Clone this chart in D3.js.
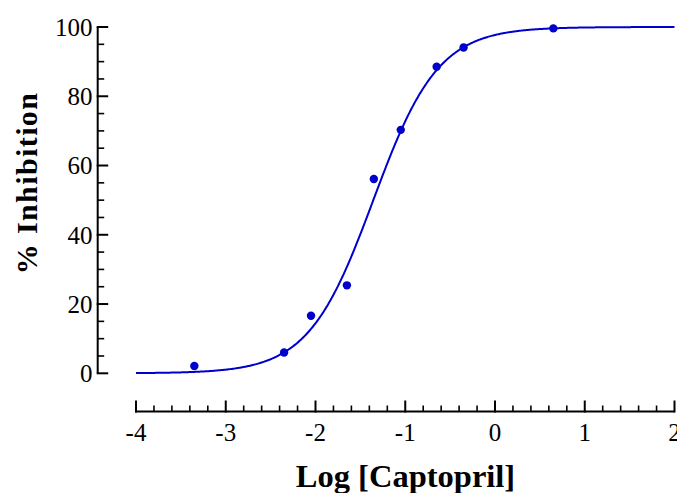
<!DOCTYPE html>
<html>
<head>
<meta charset="utf-8">
<script src="https://cdn.jsdelivr.net/npm/d3@7/dist/d3.min.js"></script>
<style>
  html, body { margin: 0; padding: 0; background: #fff; }
  svg { display: block; }
  text { font-family: "Liberation Serif", "Times New Roman", serif; fill: #000; }
</style>
</head>
<body>
<svg id="chart" width="677" height="493"></svg>
<script>
// Log concentration of captopril and measured inhibition
const logConc = [-3.35, -2.35, -2.05, -1.65, -1.35, -1.05, -0.65, -0.35, 0.65];
const inhibition = [2.1, 6.0, 16.6, 25.4, 56.1, 70.3, 88.5, 94.1, 99.6];

// Four-parameter logistic fit of the dose-response data
const fitBottom = 0;
const fitTop = 100;
const fitLogIC50 = -1.356;
const fitHill = 1.2;

const xTicks = [-4, -3, -2, -1, 0, 1, 2];
const yTicks = [0, 20, 40, 60, 80, 100];

const xTitle = "Log [Captopril]";
const yTitle = "% Inhibition";

const svg = d3.select("#chart");
const blue = "#0000cc";

const x = d3.scaleLinear().domain([-4, 2]).range([136, 674.5]);
const y = d3.scaleLinear().domain([0, 100]).range([373.3, 27]);

// Y axis: ticks pointing inward, minor every 5
const yAxisX = 97.7;
const gy = svg.append("g");
gy.append("line")
  .attr("x1", yAxisX).attr("x2", yAxisX)
  .attr("y1", y(100)).attr("y2", y(0))
  .attr("stroke", "#000").attr("stroke-width", 2);
gy.selectAll("line.minor")
  .data(d3.range(0, 101, 5).filter(v => v % 20 !== 0))
  .join("line").attr("class", "minor")
  .attr("x1", yAxisX).attr("x2", yAxisX + 6.5)
  .attr("y1", d => y(d)).attr("y2", d => y(d))
  .attr("stroke", "#000").attr("stroke-width", 1.6);
gy.selectAll("line.major")
  .data(yTicks)
  .join("line").attr("class", "major")
  .attr("x1", yAxisX - 1).attr("x2", yAxisX + 10.5)
  .attr("y1", d => y(d)).attr("y2", d => y(d))
  .attr("stroke", "#000").attr("stroke-width", 2);
gy.selectAll("text")
  .data(yTicks)
  .join("text")
  .attr("x", 92.5).attr("y", d => y(d)).attr("dy", "0.35em")
  .attr("text-anchor", "end")
  .attr("font-size", 25)
  .text(d => d);

// X axis: ticks pointing up, minor every 0.2
const xAxisY = 411.5;
const gx = svg.append("g");
gx.append("line")
  .attr("x1", x(-4) - 1).attr("x2", x(2))
  .attr("y1", xAxisY).attr("y2", xAxisY)
  .attr("stroke", "#000").attr("stroke-width", 2);
gx.selectAll("line.minor")
  .data(d3.range(0, 31).map(i => -4 + i * 0.2).filter((v, i) => i % 5 !== 0))
  .join("line").attr("class", "minor")
  .attr("x1", d => x(d)).attr("x2", d => x(d))
  .attr("y1", xAxisY).attr("y2", xAxisY - 6)
  .attr("stroke", "#000").attr("stroke-width", 1.6);
gx.selectAll("line.major")
  .data(xTicks)
  .join("line").attr("class", "major")
  .attr("x1", d => x(d)).attr("x2", d => x(d))
  .attr("y1", xAxisY + 1).attr("y2", xAxisY - 11)
  .attr("stroke", "#000").attr("stroke-width", 2);
gx.selectAll("text")
  .data(xTicks)
  .join("text")
  .attr("x", d => x(d)).attr("y", 441)
  .attr("text-anchor", "middle")
  .attr("font-size", 25)
  .text(d => d);

// Axis titles
svg.append("text")
  .attr("x", 405.5).attr("y", 487)
  .attr("text-anchor", "middle")
  .attr("font-size", 32.5).attr("font-weight", "bold")
  .text(xTitle);
svg.append("text")
  .attr("transform", "translate(37,183) rotate(-90)")
  .attr("text-anchor", "middle")
  .attr("font-size", 30).attr("font-weight", "bold")
  .attr("letter-spacing", 1.4)
  .text(yTitle);

// Fitted dose-response curve
const hill = v => fitBottom + (fitTop - fitBottom) / (1 + Math.pow(10, (fitLogIC50 - v) * fitHill));
const curveX = d3.range(0, 601).map(i => -4 + i * 0.01);
svg.append("path")
  .datum(curveX)
  .attr("fill", "none")
  .attr("stroke", blue)
  .attr("stroke-width", 2)
  .attr("d", d3.line().x(d => x(d)).y(d => y(hill(d))));

// Measured points
svg.append("g").selectAll("circle")
  .data(logConc.map((c, i) => ({ c, v: inhibition[i] })))
  .join("circle")
  .attr("cx", d => x(d.c)).attr("cy", d => y(d.v))
  .attr("r", 4.2)
  .attr("fill", blue);
</script>
</body>
</html>
